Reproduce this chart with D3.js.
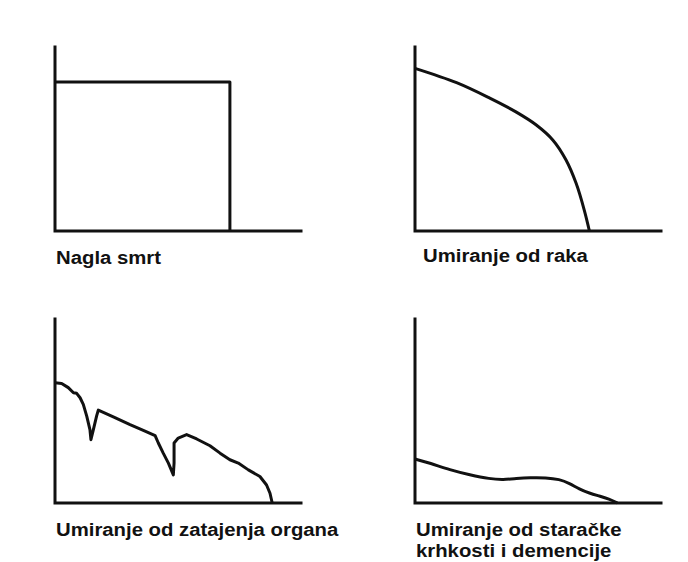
<!DOCTYPE html>
<html lang="hr">
  <head>
    <meta charset="utf-8">
    <style>
      body{ margin:0; background:#fff; }
      .axis{ fill:none; stroke:#111; stroke-width:3px; stroke-linecap:square; }
      .trajectory{ fill:none; stroke:#111; stroke-width:3px; stroke-linejoin:round; }
      .label{ font: bold 18px "Liberation Sans", Arial, sans-serif; fill:#111; }
    </style>
  </head>
  <body>
    <script src="https://d3js.org/d3.v7.min.js"></script>
    <script>
      // trajectories: [time, function] on a 0-100 scale
      var suddenDeath = [[0,81],[71.1,81],[71.1,0]];

      var cancer = [[0,88.4],[16.9,80.6],[30.4,72.2],[41.2,64.6],[49.3,57.6],[56,49.5],
                    [61.4,38.6],[65.5,25.9],[68.8,11.4],[70.9,0]];

      var organFailure = [[0,65.4],[2.7,65],[5.4,62.7],[7.5,59.9],[8.8,59.6],[10.2,57.2],
                          [11.5,53.6],[12.9,47.2],[14.2,39.9],[14.6,34.4],[15.6,39.9],[16.9,47.2],
                          [17.6,50.5],[23.7,46.8],[30.5,42.6],[35.9,39.5],[40.7,36.6],[42,32.6],
                          [44,27.1],[46.1,21.7],[48.1,15.3],[48.4,21.7],[48.4,32.6],[50.1,35.3],
                          [53.5,37.2],[57.6,34.8],[63,31.1],[67.1,27.1],[71.1,23.5],[74.5,21.7],
                          [78.6,18],[83.3,14.4],[86,9.8],[87.4,5.3],[88.3,0]];

      var frailty = [[0,23.9],[6.1,21.7],[14.2,18],[22.3,15.3],[30.4,13.1],[35.8,12.6],
                     [41.2,13.3],[46.6,13.8],[53.3,13.8],[58.7,12.9],[62.8,10.7],[66.8,7.5],
                     [70.9,5.3],[74.9,3.8],[78.9,2.2],[82.3,0]];

      var labels = [["Nagla smrt"],
                    ["Umiranje od raka"],
                    ["Umiranje od zatajenja organa"],
                    ["Umiranje od staračke", "krhkosti i demencije"]];

      var series = [suddenDeath, cancer, organFailure, frailty];
      var curves = [d3.curveLinear, d3.curveCatmullRom, d3.curveLinear, d3.curveBasis];

      // layout of the 2x2 grid
      var W = 688, H = 562,
          pw = 246, ph = 184,
          origins = [[55,47],[415,47],[55,319],[415,319]],
          labelOffset = [[1,33],[8,31],[1,33],[1,33]],
          lineGap = 21;

      var svg = d3.select("body").append("svg")
          .attr("width", W)
          .attr("height", H);

      var x = d3.scaleLinear().domain([0,100]).range([0,pw]);
      var y = d3.scaleLinear().domain([0,100]).range([ph,0]);

      series.forEach(function(data, i){
        var g = svg.append("g")
            .attr("transform", "translate(" + origins[i][0] + "," + origins[i][1] + ")");

        // axes drawn as plain L shapes
        g.append("path")
            .attr("class", "axis")
            .attr("d", d3.line()([[x(0), y(100)], [x(0), y(0)], [x(100), y(0)]]));

        g.append("path")
            .datum(data)
            .attr("class", "trajectory")
            .attr("d", d3.line()
                  .x(function(d){ return x(d[0]); })
                  .y(function(d){ return y(d[1]); })
                  .curve(curves[i]));

        var t = g.append("g")
            .attr("transform", "translate(" + labelOffset[i][0] + "," + (ph + labelOffset[i][1]) + ") scale(1.13,1)");
        t.selectAll("text")
            .data(labels[i])
            .join("text")
            .attr("class", "label")
            .attr("y", function(d, k){ return k * lineGap; })
            .text(function(d){ return d; });
      });
    </script>
  </body>
</html>
